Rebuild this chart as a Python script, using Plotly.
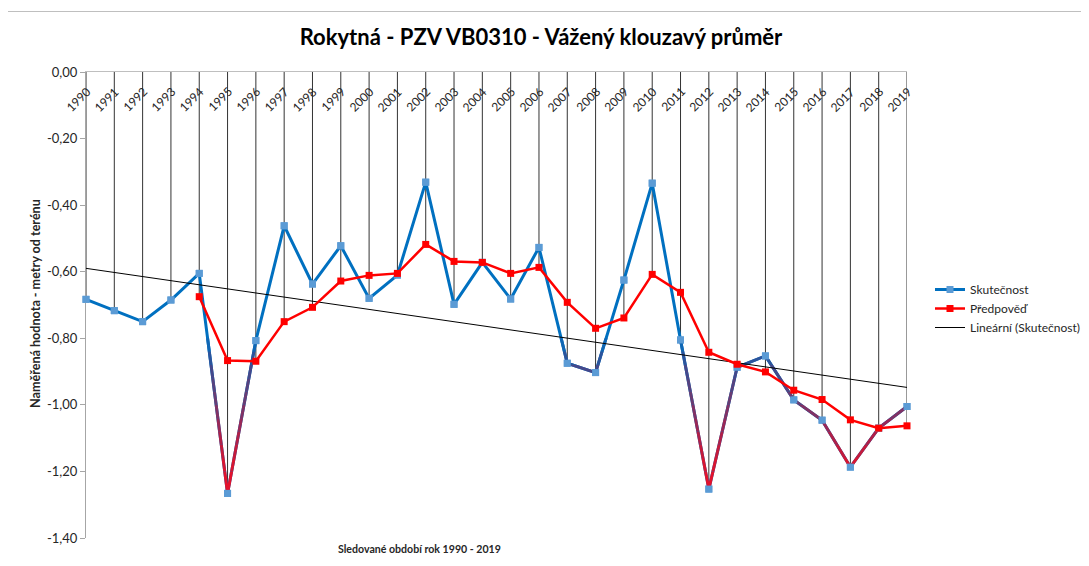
import numpy as np
import plotly.graph_objects as go

# ---------------- data ----------------
years = list(range(1990, 2020))
year_labels = [str(y) for y in years]

skutecnost = [-0.683, -0.717, -0.750, -0.685, -0.605, -1.266, -0.807, -0.462, -0.637, -0.522,
              -0.680, -0.610, -0.331, -0.698, -0.572, -0.682, -0.527, -0.875, -0.903, -0.625,
              -0.334, -0.805, -1.253, -0.887, -0.853, -0.985, -1.046, -1.187, -1.070, -1.005]

predpoved = [None, None, None, None, -0.675, -0.867, -0.869, -0.750, -0.707, -0.628,
             -0.611, -0.605, -0.518, -0.569, -0.572, -0.605, -0.587, -0.692, -0.770, -0.739,
             -0.608, -0.662, -0.842, -0.878, -0.901, -0.956, -0.984, -1.045, -1.070, -1.063]

y_tick_vals = [0.0, -0.2, -0.4, -0.6, -0.8, -1.0, -1.2, -1.4]
y_tick_text = ["0,00", "-0,20", "-0,40", "-0,60", "-0,80", "-1,00", "-1,20", "-1,40"]

title_text = "Rokytná - PZV VB0310 - Vážený klouzavý průměr"
y_title = "Naměřená hodnota - metry od terénu"
x_title = "Sledované období rok 1990 - 2019"
series_names = ["Skutečnost", "Předpověď", "Lineární (Skutečnost)"]

Y_MIN, Y_MAX = -1.4, 0.0

# ---------------- styles ----------------
FONT = "Lato, 'Open Sans', sans-serif"
BLUE_LINE = "#0070C0"
BLUE_MARK = "#5B9BD5"
RED = "#FF0000"
TXT = "#262626"

W, H = 1089, 566
OFF = 8                      # page body margin of the html page
PX0, PX1, PY0, PY1 = 86, 907, 72, 538
L, T = PX0 - OFF, PY0 - OFF
R, B = W - (PX1 - OFF), H - (PY1 - OFF)
PW, PH = PX1 - PX0, PY1 - PY0


def px_x(p):
    return (p - PX0) / PW


def px_y(p):
    return (PY1 - p) / PH


# linear trend (Excel "Lineární" trendline) from the measured series
slope, intercept = np.polyfit(years, skutecnost, 1)
trend_x = [years[0], years[-1]]
trend_y = [slope * x + intercept for x in trend_x]

# drop lines from the category axis (value 0) down to the lowest point
drop_x, drop_y = [], []
for yr, s, p in zip(years, skutecnost, predpoved):
    low = min(v for v in (s, p) if v is not None)
    drop_x += [yr, yr, None]
    drop_y += [0.0, low, None]

fig = go.Figure()

fig.add_trace(go.Scatter(x=drop_x, y=drop_y, mode="lines",
                         line=dict(color="#333333", width=1),
                         showlegend=False, hoverinfo="skip", xaxis="x", yaxis="y"))
fig.add_trace(go.Scatter(x=years, y=skutecnost, mode="lines+markers", name=series_names[0],
                         line=dict(color=BLUE_LINE, width=3),
                         marker=dict(symbol="square", size=7, color=BLUE_MARK),
                         cliponaxis=False, legendrank=1, xaxis="x", yaxis="y"))

# colour gradient of the measured line with depth (blue -> purple -> red):
# the same line is redrawn in horizontal value bands, each band its own clipped subplot
stop_v = [-1.26, -1.18, -1.08, -0.98, -0.88, -0.80]
stop_r = [228, 215, 165, 105, 60, 0]
stop_g = [18, 22, 35, 60, 75, 112]
stop_b = [45, 50, 80, 115, 145, 192]
band_edges = [-0.80, -0.84, -0.88, -0.92, -0.96, -1.00, -1.04, -1.08, -1.12, -1.16, -1.20, -1.40]
layout_axes = {}
ax_id = 2
for hi, lo in zip(band_edges[:-1], band_edges[1:]):
    mid = max((hi + lo) / 2, -1.25)
    col = "rgb({},{},{})".format(int(np.interp(mid, stop_v, stop_r)),
                                 int(np.interp(mid, stop_v, stop_g)),
                                 int(np.interp(mid, stop_v, stop_b)))
    layout_axes[f"yaxis{ax_id}"] = dict(
        domain=[(lo - Y_MIN) / (Y_MAX - Y_MIN), (hi - Y_MIN) / (Y_MAX - Y_MIN)],
        range=[lo, hi], anchor="x", visible=False, fixedrange=True)
    fig.add_trace(go.Scatter(x=years, y=skutecnost, mode="lines",
                             line=dict(color=col, width=3, simplify=False),
                             showlegend=False, hoverinfo="skip",
                             xaxis="x", yaxis=f"y{ax_id}"))
    ax_id += 1

top = f"y{ax_id}"
layout_axes[f"yaxis{ax_id}"] = dict(domain=[0, 1], range=[Y_MIN, Y_MAX], anchor="x",
                                     visible=False, fixedrange=True)
fig.add_trace(go.Scatter(x=trend_x, y=trend_y, mode="lines", name=series_names[2],
                         line=dict(color="#000000", width=1),
                         legendrank=3, xaxis="x", yaxis=top))
fig.add_trace(go.Scatter(x=years, y=skutecnost, mode="markers",
                         marker=dict(symbol="square", size=7, color=BLUE_MARK),
                         cliponaxis=False, showlegend=False, xaxis="x", yaxis=top))
fig.add_trace(go.Scatter(x=years, y=predpoved, mode="lines+markers", name=series_names[1],
                         line=dict(color=RED, width=2.5),
                         marker=dict(symbol="square", size=7, color=RED),
                         cliponaxis=False, legendrank=2, xaxis="x", yaxis=top))

annotations = []
for yr, lab in zip(years, year_labels):
    annotations.append(dict(x=yr, y=0.0, xref="x", yref="y", text=lab, showarrow=False,
                            textangle=-45, xanchor="center", yanchor="middle",
                            xshift=-8, yshift=-27,
                            font=dict(family=FONT, size=12, color=TXT)))
annotations.append(dict(x=px_x(35), y=px_y(304), xref="paper", yref="paper", text=y_title,
                        showarrow=False, textangle=-90, xanchor="center", yanchor="middle",
                        font=dict(family=FONT, size=12.6, color=TXT, weight="bold")))
annotations.append(dict(x=px_x(419), y=px_y(549), xref="paper", yref="paper", text=x_title,
                        showarrow=False, xanchor="center", yanchor="middle",
                        font=dict(family=FONT, size=10.6, color=TXT, weight="bold")))

fig.update_layout(
    width=W, height=H,
    margin=dict(l=L, r=R, t=T, b=B, pad=0, autoexpand=False),
    paper_bgcolor="white", plot_bgcolor="rgba(0,0,0,0)",
    font=dict(family=FONT, size=13, color=TXT),
    title=dict(text=title_text, x=(541 - OFF) / W, y=1 - (37 - OFF) / H,
               xref="container", yref="container", xanchor="center", yanchor="middle",
               font=dict(family=FONT, size=22, color="#000000", weight="bold")),
    xaxis=dict(range=[years[0], years[-1]], side="top", showline=True, linecolor="#BFBFBF",
               linewidth=1, showgrid=False, zeroline=False, showticklabels=False,
               ticks="", fixedrange=True),
    yaxis=dict(range=[Y_MIN, Y_MAX], domain=[0, 1], tickvals=y_tick_vals, ticktext=y_tick_text,
               showline=True, linecolor="#A6A6A6", linewidth=1, ticks="outside", ticklen=5,
               tickcolor="#A6A6A6", showgrid=False, zeroline=False,
               tickfont=dict(family=FONT, size=13, color=TXT), fixedrange=True),
    legend=dict(x=px_x(930), y=px_y(275), xanchor="left", yanchor="top",
                font=dict(family=FONT, size=12, color=TXT), bgcolor="rgba(0,0,0,0)",
                itemwidth=30),
    annotations=annotations,
    shapes=[dict(type="rect", xref="paper", yref="paper",
                 x0=px_x(7), x1=px_x(W + 20), y0=px_y(H + 20), y1=px_y(11.5),
                 line=dict(color="#BFBFBF", width=1), fillcolor="rgba(0,0,0,0)", layer="below")],
    showlegend=True,
    **layout_axes,
)

fig.write_html("out.html")
